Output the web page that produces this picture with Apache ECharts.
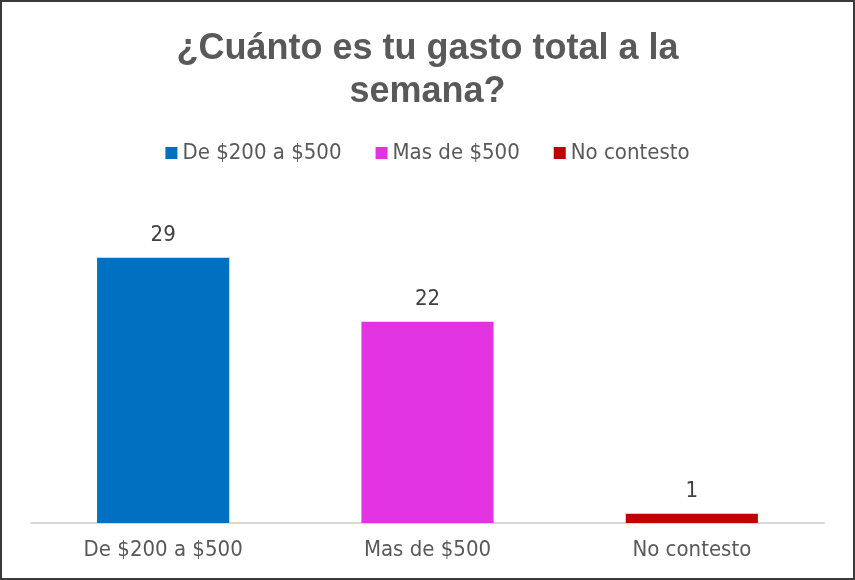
<!DOCTYPE html>
<html>
<head>
<meta charset="utf-8">
<script src="https://cdn.jsdelivr.net/npm/echarts@6/dist/echarts.min.js"></script>
<style>
  html, body { margin: 0; padding: 0; background: #fff; }
  #main { width: 855px; height: 580px; box-sizing: border-box; border: 2px solid #3a3a3a; }
</style>
</head>
<body>
<div id="main"></div>
<script>
  // datos del gráfico
  var categorias = ['De $200 a $500', 'Mas de $500', 'No contesto'];
  var valores = [29, 22, 1];
  var colores = ['#0070C0', '#E233E2', '#C00000'];

  var chart = echarts.init(document.getElementById('main'));

  var fuente = '"DejaVu Sans Condensed", "DejaVu Sans", sans-serif';

  // una serie por categoría para que la leyenda muestre las tres
  var series = categorias.map(function (nombre, i) {
    var datos = categorias.map(function (c, j) { return j === i ? valores[i] : '-'; });
    return {
      name: nombre,
      type: 'bar',
      stack: 'total',
      barWidth: '50%',
      data: datos,
      itemStyle: { color: colores[i] },
      label: {
        show: true,
        position: 'top',
        distance: 12,
        color: '#404040',
        fontSize: 22,
        fontFamily: fuente
      }
    };
  });

  chart.setOption({
    animation: false,
    title: {
      text: '¿Cuánto es tu gasto total a la\nsemana?',
      left: 'center',
      top: 21,
      textStyle: {
        fontFamily: '"Liberation Sans", Arial, sans-serif',
        fontWeight: 'bold',
        fontSize: 36,
        lineHeight: 43,
        color: '#595959'
      }
    },
    legend: {
      top: 135,
      left: 'center',
      itemWidth: 12,
      itemHeight: 12,
      itemGap: 34,
      icon: 'rect',
      textStyle: { fontFamily: fuente, fontSize: 22, color: '#595959' },
      data: categorias
    },
    grid: { left: 29, right: 29, top: 201, bottom: 55, containLabel: false },
    xAxis: {
      type: 'category',
      data: categorias,
      axisLine: { lineStyle: { color: '#d9d9d9', width: 2 } },
      axisTick: { show: false },
      axisLabel: { color: '#595959', fontSize: 22, fontFamily: fuente, margin: 16 }
    },
    yAxis: {
      type: 'value',
      min: 0,
      max: 35,
      show: false,
      splitLine: { show: false }
    },
    series: series
  });
</script>
</body>
</html>
